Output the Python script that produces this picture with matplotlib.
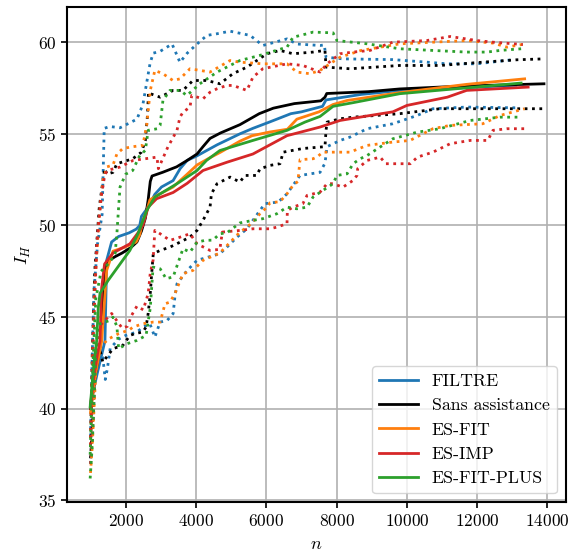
import numpy as np
import matplotlib
matplotlib.use('Agg')
import matplotlib.pyplot as plt

plt.rcParams['font.family'] = 'serif'
plt.rcParams['font.serif'] = ['cmr10']
plt.rcParams['mathtext.fontset'] = 'cm'
plt.rcParams['axes.formatter.use_mathtext'] = True
plt.rcParams['axes.unicode_minus'] = False

# (n, I_H), one list per curve
# FILTRE
filtre_mean = [(1000, 40.3), (1200, 42.0), (1411, 43.7), (1460, 48.1), (1600, 49.1), (1800, 49.4),
               (2100, 49.6), (2300, 49.8), (2400, 50.0), (2450, 50.5), (2640, 51.0),
               (2830, 51.7), (3020, 52.1), (3350, 52.45), (3550, 53.1), (3750, 53.55), (4030, 53.8),
               (4600, 54.4), (5250, 55.0), (5620, 55.3), (6100, 55.65), (6700, 56.1), (7000, 56.2),
               (7600, 56.5), (7700, 56.85), (8700, 57.15), (10000, 57.4), (11500, 57.5), (13100, 57.65)]
filtre_high = [(1000, 38.5), (1050, 43), (1100, 46.5), (1200, 49), (1330, 50.6), (1390, 55.3), (1550, 55.4),
               (1840, 55.33), (2320, 55.8), (2490, 56.6), (2690, 58.8), (2780, 59.4), (2980, 59.5),
               (3320, 59.9), (3400, 59.55), (3545, 58.9), (3750, 59.4), (4030, 59.9), (4310, 60.37),
               (4600, 60.46), (4970, 60.6), (5540, 60.37), (5900, 59.82), (6590, 60.18), (6870, 59.9),
               (7530, 59.82), (7650, 59.85), (7700, 59.18), (8180, 59.09), (9600, 59.05), (10570, 58.91),
               (11140, 58.82), (12000, 58.82), (12990, 59.04)]
filtre_low = [(1000, 37.0), (1050, 38.5), (1100, 40.5), (1150, 43), (1250, 43.5), (1350, 42.8), (1420, 41.6),
              (1480, 42.2), (1560, 43.3), (1800, 43.8), (2000, 44.0), (2320, 44.19), (2500, 44.46),
              (2690, 44.64), (2830, 43.91), (2980, 44.73), (3180, 44.82), (3350, 45.19), (3400, 46.1),
              (3460, 46.82), (3750, 47.55), (4030, 48.1), (4680, 48.46), (4880, 48.82), (5170, 49.37),
              (5450, 49.82), (5620, 50.28), (5820, 50.82), (5960, 51.19), (6340, 51.28), (6590, 51.73),
              (6760, 52.19), (6960, 52.73), (7530, 52.9), (7670, 53.4), (7730, 54.3), (8100, 54.64),
              (8380, 54.82), (8870, 55.28), (9600, 55.55), (10290, 56.0), (10740, 56.37), (11700, 56.46),
              (13100, 56.42)]

# Sans assistance
sans_mean = [(1000, 40.0), (1150, 42.0), (1300, 43.7), (1363, 46.6), (1450, 48.0), (1700, 48.3), (1900, 48.5),
             (2150, 48.8), (2320, 49.1), (2450, 49.7), (2560, 50.4), (2640, 51.4), (2700, 52.4), (2750, 52.7),
             (3050, 52.9), (3450, 53.2), (3750, 53.55), (4030, 53.9), (4200, 54.3), (4400, 54.75),
             (4700, 55.05), (5250, 55.5), (5800, 56.1), (6200, 56.4), (6800, 56.65), (7550, 56.8),
             (7670, 57.0), (7720, 57.2), (8900, 57.3), (9800, 57.45), (11500, 57.6), (13900, 57.73)]
sans_high = [(1000, 38), (1050, 43), (1120, 47.5), (1250, 51), (1400, 53.1), (1470, 52.8), (1640, 52.9),
             (1750, 53.37), (2200, 53.64), (2450, 54.0), (2560, 54.64), (2620, 56.0), (2650, 57.27),
             (2700, 57.19), (2980, 57.0), (3350, 57.37), (3630, 57.37), (3915, 57.91), (4310, 57.91),
             (4680, 57.73), (5050, 58.28), (5450, 58.64), (6020, 59.37), (6390, 59.55), (6760, 59.37),
             (7330, 59.46), (7670, 59.55), (7700, 58.64), (8380, 58.55), (9800, 58.73), (10950, 58.73),
             (12160, 58.91), (13130, 59.04), (13900, 59.09)]
sans_low = [(1000, 37.3), (1050, 39), (1100, 41), (1150, 42.5), (1270, 43.2), (1350, 42.55), (1640, 43.28),
            (1920, 43.46), (2120, 44.0), (2260, 44.1), (2490, 44.19), (2580, 44.46), (2640, 45.2),
            (2700, 46.3), (2740, 47.37), (2785, 48.46), (2980, 48.64), (3260, 48.82), (3545, 49.09),
            (3830, 49.37), (4030, 49.73), (4200, 50.28), (4400, 51.0), (4440, 51.73), (4600, 52.28),
            (4970, 52.64), (5250, 52.37), (5390, 52.73), (5730, 52.73), (5820, 53.09), (6110, 53.28),
            (6390, 53.37), (6480, 54.0), (7040, 54.2), (7670, 54.3), (7700, 55.19), (7730, 55.64),
            (8100, 55.82), (8470, 55.91), (9800, 56.1), (10940, 56.37), (13900, 56.37)]

# ES-FIT
fit_mean = [(1000, 39.8), (1150, 42.0), (1317, 43.7), (1460, 47.55), (1640, 48.6), (1950, 48.8),
            (2300, 49.1), (2400, 49.5), (2500, 50.3), (2600, 50.8), (2690, 51.4), (2950, 51.7),
            (3350, 52.1), (3550, 52.45), (3750, 52.8), (4030, 53.3), (4400, 53.7), (4700, 54.0),
            (5250, 54.6), (5600, 54.9), (6100, 55.1), (6600, 55.25), (6870, 55.8), (7500, 56.2),
            (7900, 56.6), (8300, 56.82), (9800, 57.25), (11700, 57.7), (13350, 58.0)]
fit_high = [(1000, 38), (1060, 43), (1130, 47), (1250, 50.5), (1354, 52.46), (1470, 53.2), (1640, 53.3),
            (1750, 53.9), (1920, 54.2), (2210, 54.3), (2490, 54.37), (2600, 55.5), (2700, 57.37),
            (2830, 58.46), (3060, 58.28), (3346, 57.91), (3545, 58.0), (3830, 58.55), (4400, 58.37),
            (4970, 59.0), (5250, 58.91), (5900, 58.82), (6590, 58.82), (6870, 58.37), (7240, 58.28),
            (7530, 58.46), (7810, 58.82), (8100, 59.18), (8700, 59.55), (9800, 59.91), (10740, 60.0),
            (11700, 60.09), (12450, 59.95), (12850, 59.73), (13350, 59.9)]
fit_low = [(1000, 36.5), (1050, 38), (1100, 40), (1150, 42), (1250, 43.3), (1500, 43.8), (1800, 44.1),
           (2100, 44.3), (2210, 44.46), (2490, 44.64), (2780, 44.73), (2980, 44.73), (3120, 45.73),
           (3260, 45.82), (3400, 46.28), (3630, 47.37), (3915, 47.55), (4200, 48.1), (4680, 48.5),
           (5250, 49.64), (5450, 49.91), (5620, 50.19), (5820, 50.64), (6020, 51.0), (6110, 51.24),
           (6390, 51.3), (6590, 51.73), (6760, 52.19), (6900, 52.4), (6960, 53.59), (7330, 53.64),
           (7440, 53.73), (7610, 54.0), (8380, 54.0), (8870, 54.37), (9600, 54.55), (10090, 54.64),
           (10740, 55.28), (11230, 55.46), (12160, 55.55), (12650, 56.0), (13350, 56.37)]

# ES-IMP
imp_mean = [(1000, 40.2), (1100, 41.8), (1200, 43.0), (1269, 43.7), (1317, 46.6), (1400, 47.9), (1640, 48.5),
            (2120, 49.0), (2350, 49.6), (2490, 50.0), (2640, 51.0), (2880, 51.46), (3350, 51.8), (3750, 52.3),
            (4200, 53.0), (4880, 53.45), (5620, 53.9), (6590, 54.9), (7530, 55.37), (8100, 55.73),
            (8950, 56.0), (9600, 56.2), (10000, 56.55), (11150, 57.0), (11700, 57.37), (13450, 57.55)]
imp_high = [(1000, 38), (1080, 44), (1180, 49), (1300, 51.5), (1400, 52.7), (1470, 53.0), (1840, 53.19),
            (2210, 53.55), (2890, 53.73), (2930, 53.1), (3200, 54.28), (3460, 55.19), (3545, 55.91),
            (3630, 56.18), (3830, 56.46), (3880, 57.09), (4200, 56.91), (4400, 57.27), (4600, 57.46),
            (4880, 57.64), (5050, 57.64), (5450, 57.37), (5620, 58.09), (5900, 58.55), (6590, 58.82),
            (7040, 58.73), (7530, 58.37), (7730, 58.82), (8100, 59.37), (8470, 59.46), (8950, 59.55),
            (9600, 60.0), (10570, 60.09), (11230, 60.31), (11990, 60.09), (12450, 60.0), (13300, 59.87)]
imp_low = [(1000, 37.0), (1050, 38.5), (1100, 41), (1150, 43), (1250, 44.5), (1600, 45.2), (1900, 44.4),
           (2050, 44.5), (2170, 45.1), (2320, 45.6), (2500, 45.4), (2640, 46.28), (2700, 47.4),
           (2780, 48.1), (2830, 49.73), (2980, 49.55), (3260, 49.19), (3450, 49.3), (3830, 49.55),
           (4030, 49.0), (4400, 48.64), (4680, 48.7), (4750, 49.64), (5250, 49.73), (5620, 49.82),
           (6100, 49.82), (6300, 49.91), (6590, 50.1), (6600, 50.82), (6760, 51.0), (7040, 51.19),
           (7160, 51.64), (7530, 51.82), (7730, 52.28), (7900, 52.28), (8180, 52.09), (8470, 52.46),
           (8580, 52.73), (8600, 53.1), (8870, 53.55), (9240, 53.73), (9400, 53.37), (10100, 53.37),
           (10300, 53.73), (10740, 54.0), (11230, 54.46), (11800, 54.64), (12300, 54.64), (12450, 55.19),
           (12850, 55.28), (13450, 55.28)]

# ES-FIT-PLUS
plus_mean = [(990, 40.1), (1100, 42.5), (1175, 43.7), (1220, 45.5), (1270, 46.3), (1500, 47.0), (1640, 47.37),
             (1840, 47.9), (2120, 48.64), (2350, 49.55), (2600, 50.82), (2830, 51.55), (3460, 52.28),
             (4030, 53.0), (4300, 53.55), (4680, 54.09), (5620, 54.64), (6590, 55.19), (7100, 55.64),
             (7530, 55.95), (7900, 56.5), (8470, 56.7), (9800, 57.19), (13250, 57.77)]
plus_high = [(990, 37.5), (1060, 42), (1150, 46), (1300, 47.5), (1550, 48.0), (1700, 48.46), (1750, 49.55),
             (1800, 51.0), (1840, 52.1), (2000, 52.8), (2200, 53.0), (2400, 53.82), (2560, 54.1),
             (2600, 54.64), (2640, 55.19), (2900, 55.28), (2980, 55.46), (3060, 56.82), (3260, 57.37),
             (3550, 57.37), (3740, 57.09), (4110, 57.73), (4600, 58.37), (5250, 59.0), (5820, 59.28),
             (6590, 59.73), (6760, 60.27), (7160, 60.46), (7330, 60.55), (7900, 60.51), (8010, 60.09),
             (8870, 59.91), (9800, 59.64), (10740, 59.55), (11700, 59.46), (12280, 59.46), (12650, 59.55),
             (13250, 59.64)]
plus_low = [(990, 36.2), (1050, 38), (1100, 40.5), (1150, 43), (1200, 44.5), (1270, 44.64), (1550, 44.82),
            (1640, 45.0), (1750, 44.5), (1800, 43.28), (2040, 43.55), (2320, 43.73), (2580, 44.0),
            (2700, 45.5), (2780, 47.73), (2980, 47.64), (3150, 47.1), (3350, 47.19), (3630, 48.73),
            (3830, 48.55), (4030, 49.09), (4260, 49.19), (4480, 49.2), (4680, 49.55), (4880, 49.6),
            (5250, 50.14), (5620, 50.28), (5900, 50.37), (6300, 50.64), (6590, 51.0), (6870, 50.91),
            (7160, 51.0), (7330, 51.55), (7610, 51.91), (7900, 52.28), (8010, 52.73), (8300, 52.82),
            (8470, 53.37), (8670, 53.64), (8870, 53.82), (9600, 54.73), (10290, 55.09), (10940, 55.28),
            (11800, 55.73), (12650, 55.91), (13250, 55.91)]

labels = ['FILTRE', 'Sans assistance', 'ES-FIT', 'ES-IMP', 'ES-FIT-PLUS']
colors = ['#1f77b4', 'k', '#ff7f0e', '#d62728', '#2ca02c']
means = [filtre_mean, sans_mean, fit_mean, imp_mean, plus_mean]
highs = [filtre_high, sans_high, fit_high, imp_high, plus_high]
lows = [filtre_low, sans_low, fit_low, imp_low, plus_low]

fig = plt.figure(figsize=(5.69, 5.53), dpi=100)
ax = fig.add_axes([0.1183, 0.0917, 0.876, 0.895])

for lab, col, m, hi, lo in zip(labels, colors, means, highs, lows):
    m = np.array(m)
    hi = np.array(hi)
    lo = np.array(lo)
    ax.plot(m[:, 0], m[:, 1], color=col, lw=2, label=lab)
    ax.plot(hi[:, 0], hi[:, 1], color=col, lw=2, ls=':')
    ax.plot(lo[:, 0], lo[:, 1], color=col, lw=2, ls=':')

ax.set_xlim(340, 14520)
ax.set_ylim(34.9, 61.9)
ax.set_xticks([2000, 4000, 6000, 8000, 10000, 12000, 14000])
ax.set_yticks([35, 40, 45, 50, 55, 60])
ax.tick_params(labelsize=12.5, width=1.2, length=4)
ax.grid(True, color='#b0b0b0', lw=1.2)
for s in ax.spines.values():
    s.set_linewidth(1.5)
ax.set_xlabel('$n$', fontsize=13, labelpad=6)
ax.set_ylabel('$I_H$', fontsize=13)
ax.legend(loc='lower right', fontsize=12.8, handlelength=2.15)

fig.savefig('out.png', dpi=100)
